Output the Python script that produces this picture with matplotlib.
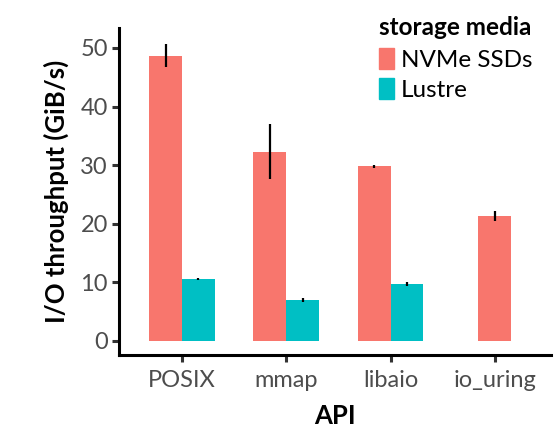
import matplotlib.pyplot as plt
import matplotlib.patches as mpatches
import numpy as np

plt.rcParams['font.family'] = ['Lato', 'DejaVu Sans']

apis = ['POSIX', 'mmap', 'libaio', 'io_uring']
nvme = [48.7, 32.3, 29.8, 21.3]
nvme_err = [1.9, 4.7, 0.3, 0.9]
lustre = [10.6, 7.0, 9.7]
lustre_err = [0.2, 0.3, 0.3]

red = '#F8766D'
teal = '#00BFC4'

fig = plt.figure(figsize=(5.55, 4.30), dpi=100)
ax = fig.add_axes([0.2144, 0.1744, 0.7786, 0.7605])

x = np.arange(1, len(apis) + 1, dtype=float)
w = 0.315
# positions: dodge when both series exist, centred when only one
nvme_x = [xi - w / 2 if i < len(lustre) else xi for i, xi in enumerate(x)]
lustre_x = [xi + w / 2 for xi in x[:len(lustre)]]

err_kw = dict(ecolor='black', elinewidth=1.6, capsize=0)
ax.bar(nvme_x, nvme, width=w, color=red, yerr=nvme_err, error_kw=err_kw)
ax.bar(lustre_x, lustre, width=w, color=teal, yerr=lustre_err, error_kw=err_kw)

ax.set_xlim(0.396, 4.54)
ax.set_ylim(-2.4, 53.4)
ax.set_xticks(x)
ax.set_xticklabels(apis)
ax.set_yticks([0, 10, 20, 30, 40, 50])

for s in ['top', 'right']:
    ax.spines[s].set_visible(False)
for s in ['left', 'bottom']:
    ax.spines[s].set_linewidth(2.2)
    ax.spines[s].set_color('black')

ax.tick_params(axis='both', length=5, width=2.2, color='#333333',
               labelsize=17, labelcolor='#4d4d4d', pad=3)
ax.tick_params(axis='x', pad=6)

ax.set_ylabel('I/O throughput (GiB/s)', fontsize=18.5, fontweight='bold', labelpad=8)
ax.set_xlabel('API', fontsize=18.5, fontweight='bold', labelpad=9)

handles = [mpatches.Patch(color=red, label='NVMe SSDs'),
           mpatches.Patch(color=teal, label='Lustre')]
leg = ax.legend(handles=handles, title='storage media', loc='upper left',
                bbox_to_anchor=(0.58, 1.065), frameon=False, fontsize=17.5,
                title_fontproperties={'weight': 'bold', 'size': 17.5},
                handlelength=0.6, handleheight=0.95, handletextpad=0.3,
                labelspacing=0.3, borderaxespad=0)
leg._legend_box.align = 'left'
leg._legend_box.sep = 6

fig.savefig('out.png', dpi=100)
